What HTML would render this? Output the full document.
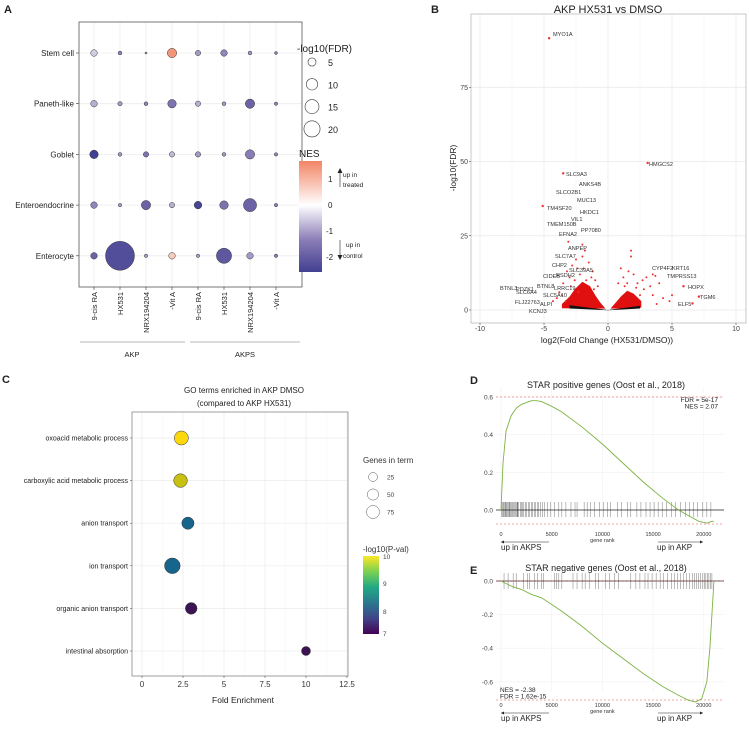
<!DOCTYPE html>
<html><head><meta charset="utf-8"><style>
body{margin:0;background:#fff}
svg{display:block;font-family:"Liberation Sans",Arial,sans-serif}
</style></head><body>
<svg id="fig" width="749" height="733" viewBox="0 0 749 733" xmlns="http://www.w3.org/2000/svg">
<g id="pA"></g>
<g id="pB"></g>
<g id="pC"></g>
<g id="pD"></g>
<g id="pE"></g>
</svg>
<script>
// ---------- Panel A data ----------
const aRows = ["Stem cell","Paneth-like","Goblet","Enteroendocrine","Enterocyte"];
const aCols = ["9-cis RA","HX531","NRX194204","-Vit A","9-cis RA","HX531","NRX194204","-Vit A"];
const aFdr = [
 [3,1,0.3,6,2,3,1,0.6],
 [3,1.3,1,5,2,1,6,0.8],
 [5,1,2,2,2,1,6,0.8],
 [3,0.8,6,2,4,5,12,0.8],
 [3,58,0.8,3,0.8,16,3,0.8]];
const aNes = [
 [-0.5,-1.2,-1,1.4,-1,-1.2,-1,-1.3],
 [-0.8,-1,-1.2,-1.5,-0.8,-1,-1.8,-1.2],
 [-2.5,-1,-1.5,-0.7,-1,-1,-1.3,-1.2],
 [-1.2,-1,-1.8,-0.8,-2.4,-1.5,-1.8,-1.3],
 [-1.8,-2.2,-1,0.7,-1,-2,-1,-1.3]];
const aLegendFdr = [5,10,15,20];
const aNesTicks = [1,0,-1,-2];
// ---------- Panel B data ----------
const bCloudPts = [[-1.8,20],[-2,18],[-2.8,15],[-3.2,13],[-1.5,16],[-2.2,12],[-2.6,10],[-1.2,13],[-3.5,9],[-3,11],[-2,22],[-2.4,14],[-1.7,10],[-3.8,6],[-4,4],[-4.3,3],[-3.3,3],[-1,10],[-0.8,8],[-1.3,11],[-2.9,8],[-3.1,23],[-2.5,17],[-1.9,14],[-3.6,5],[-1.1,7],[-2.3,6],
 [1.8,20],[1.8,18],[1,14],[1.2,11],[2.3,9],[2.8,7],[3,11],[3.3,8],[3.5,5],[4,9],[4.3,4],[4.8,3],[5,5],[1.5,9],[2,12],[0.8,9],[2.5,5],[3.8,2],[3.5,12],[3.7,11.5],[2.2,7.5],[1.3,8],[2.7,10],[1.6,13]];
const bLeftDense = [[-0.2,0.5],[-0.6,2.5],[-1,5],[-1.4,8],[-2,9.5],[-2.6,7],[-3,4.5],[-3.6,2],[-3.6,0.6],[-1,0.4]];
const bRightDense = [[0.2,0.5],[0.6,2.5],[1,4.5],[1.5,6.5],[2,5.5],[2.6,3],[2.6,0.8],[1,0.4]];
const bBlackV = [[0,0],[-3,1.6],[-3,0.5],[0,-0.1],[2.5,0.5],[2.5,1.4]];
const bLabeled = [["MYO1A",-4.6,91.5],["HMGCS2",3.1,49.5],["SLC9A3",-3.5,46],["TM4SF20",-5.1,35],["HOPX",5.9,8],["TGM6",7.1,4.5],["ELF5",6.6,2.2]];
const bTexts = [["MYO1A",553,36],["HMGCS2",649,166],["SLC9A3",566,176],["ANKS4B",579,186],["SLCO2B1",556,194],["MUC13",577,202],["TM4SF20",547,210],["HKDC1",580,214],["VIL1",571,221],["TMEM150B",547,226],["PP7080",581,232],["EFNA2",559,236],["ANPEP",568,250],["SLC7A7",555,258],["CHP2",552,267],["SLC39A5",569,272],["CIDEB",543,278],["RSDH2",556,277],["BTNL8",537,288],["LRRC19",554,290],["BTNL3",500,290],["PDZK1",516,291],["SLC6A4",516,294],["SLC5A10",543,297],["FLJ22763",515,304],["ALPI",540,306],["KCNJ3",529,313],["CYP4F2",652,270],["KRT16",672,270],["TMPRSS13",667,278],["HOPX",688,289],["TGM6",700,299],["ELF5",678,306]];
const bXTicks = [-10,-5,0,5,10];
const bYTicks = [0,25,50,75];
// ---------- Panel C data ----------
const cTerms = ["oxoacid metabolic process","carboxylic acid metabolic process","anion transport","ion transport","organic anion transport","intestinal absorption"];
const cFold = [2.4,2.35,2.8,1.85,3,10];
const cGenes = [60,55,40,80,35,15];
const cPval = [10,9.7,8.1,8,7.2,7.1];
const cXTicks = [0,2.5,5,7.5,10,12.5];
const cLegendGenes = [25,50,75];
// ---------- Panel D/E data ----------
const dRanks = [0,200,500,1000,1500,2000,2500,3000,3500,4000,5000,6000,8000,10000,12000,14000,16000,17500,18500,19500,20300,20800,21000];
const dES = [0,0.25,0.42,0.5,0.54,0.56,0.57,0.58,0.58,0.575,0.55,0.52,0.44,0.35,0.25,0.15,0.06,0,-0.03,-0.06,-0.07,-0.06,-0.06];
const dHits = [50,150,250,300,400,450,550,600,700,800,850,950,1050,1150,1200,1300,1400,1500,1600,1650,1750,1900,2000,2150,2250,2400,2500,2700,2800,3000,3100,3300,3400,3600,3700,3900,4100,4300,4600,4900,5300,5700,6000,6400,6900,7300,7500,8200,8500,8800,9200,9700,10100,10500,10800,11500,11900,12500,12800,13400,13800,14300,14700,15100,15500,15900,16300,16800,17200,17700,18200,18600,19000,19400,19900,20300,20700];
const eRanks = [0,1000,2000,3000,4000,6000,8000,10000,12000,14000,16000,17500,18500,19200,19800,20300,20600,20900,21000];
const eES = [0,-0.03,-0.05,-0.08,-0.1,-0.18,-0.27,-0.37,-0.46,-0.55,-0.63,-0.68,-0.71,-0.72,-0.7,-0.6,-0.4,-0.1,0];
const eHits = [300,700,1200,1500,2200,2600,2800,3300,3600,4000,4200,5300,5500,5700,6000,7100,7500,8000,8300,8700,9300,9600,10300,10700,11200,11600,12800,13300,13700,14200,14500,14900,15300,15700,16000,16400,16800,17100,17400,17700,18000,18300,18600,18900,19100,19300,19500,19700,19900,20050,20200,20350,20500,20650,20800];
const gseaXTicks = [0,5000,10000,15000,20000];

const NS="http://www.w3.org/2000/svg";
function mk(parent,tag,attrs,text){const e=document.createElementNS(NS,tag);for(const k in attrs)e.setAttribute(k,attrs[k]);if(text!==undefined)e.textContent=text;parent.appendChild(e);return e;}
function lerp(a,b,t){return a+(b-a)*t;}
function mixHex(c1,c2,t){const p=h=>[1,3,5].map(i=>parseInt(h.substr(i,2),16));const a=p(c1),b=p(c2);return "rgb("+a.map((v,i)=>Math.round(lerp(v,b[i],t))).join(",")+")";}

// ===== Panel A =====
(function(){
 const g=document.getElementById('pA');
 let t=mk(g,'text',{x:4,y:13,'font-size':11,'font-weight':'bold',fill:'#222'},'A');
 
 const x0=79,x1=302,y0=22,y1=287;
 const colX=i=>94+i*26.0, rowY=i=>53+i*50.7;
 const rad=v=>Math.sqrt(v)*1.9;
 const nesCol=v=>v>=0?mixHex('#ffffff','#f28566',Math.min(v/1.6,1)):(v>-1.3?mixHex('#ffffff','#8a7cb6',-v/1.3):mixHex('#8a7cb6','#3b3a8e',Math.min((-v-1.3)/1.3,1)));
 aCols.forEach((c,i)=>{mk(g,'line',{x1:colX(i),x2:colX(i),y1:y0,y2:y1,stroke:'#ececec','stroke-width':0.8});});
 aRows.forEach((r,i)=>{mk(g,'line',{x1:x0,x2:x1,y1:rowY(i),y2:rowY(i),stroke:'#ececec','stroke-width':0.8});
  const l=mk(g,'text',{x:x0-5,y:rowY(i)+3,'font-size':8,'text-anchor':'end',fill:'#222'},r);
  
  mk(g,'line',{x1:x0-3,x2:x0,y1:rowY(i),y2:rowY(i),stroke:'#333','stroke-width':0.6});});
 const box=mk(g,'rect',{x:x0,y:y0,width:x1-x0,height:y1-y0,fill:'none',stroke:'#555','stroke-width':0.8});
 
 aRows.forEach((r,i)=>aCols.forEach((c,j)=>{
  const d=mk(g,'circle',{cx:colX(j),cy:rowY(i),r:rad(aFdr[i][j]),fill:nesCol(aNes[i][j]),stroke:'#333','stroke-width':0.5});
  }));
 aCols.forEach((c,i)=>{mk(g,'line',{x1:colX(i),x2:colX(i),y1:y1,y2:y1+3,stroke:'#333','stroke-width':0.6});
  const l=mk(g,'text',{x:0,y:0,'font-size':7.5,'text-anchor':'end',fill:'#222',transform:`translate(${colX(i)+3},${y1+5}) rotate(-90)`},c);
  });
 mk(g,'line',{x1:80,x2:185,y1:342,y2:342,stroke:'#777','stroke-width':0.6});
 mk(g,'line',{x1:190,x2:300,y1:342,y2:342,stroke:'#777','stroke-width':0.6});
 t=mk(g,'text',{x:132,y:357,'font-size':7.5,'text-anchor':'middle',fill:'#222'},'AKP');
 t=mk(g,'text',{x:245,y:357,'font-size':7.5,'text-anchor':'middle',fill:'#222'},'AKPS');
 // size legend
 t=mk(g,'text',{x:297,y:52,'font-size':10,fill:'#222'},'-log10(FDR)');
 aLegendFdr.forEach((v,i)=>{const cy=62+i*22.3;
  const c=mk(g,'circle',{cx:312,cy:cy,r:rad(v)*0.95,fill:'none',stroke:'#333','stroke-width':0.6});
  mk(g,'text',{x:328,y:cy+4,'font-size':9,fill:'#222'},String(v));});
 t=mk(g,'text',{x:299,y:157,'font-size':10,fill:'#222'},'NES');
 const defs=mk(g,'defs',{});const lg=mk(defs,'linearGradient',{id:'nesg',x1:0,y1:0,x2:0,y2:1});
 [[1.63,0],[1,0],[0,0],[-1.3,0],[-2.48,0]].forEach(s=>{const v=s[0];mk(lg,'stop',{offset:((1.63-v)/(1.63+2.48)).toFixed(3),'stop-color':nesCol(v)});});
 const cb=mk(g,'rect',{x:299,y:161,width:23,height:111,fill:'url(#nesg)'});
 const nesY=v=>205-v*26;
 aNesTicks.forEach(v=>{mk(g,'text',{x:v<0?326:328,y:nesY(v)+3,'font-size':8,fill:'#222'},String(v));});
 mk(g,'line',{x1:340,x2:340,y1:187,y2:171,stroke:'#222','stroke-width':0.6});mk(g,'path',{d:'M337.5,173 L340,168 L342.5,173Z',fill:'#222'});
 mk(g,'text',{x:343,y:177,'font-size':6.5,fill:'#222'},'up in');mk(g,'text',{x:343,y:187,'font-size':6.5,fill:'#222'},'treated');
 mk(g,'line',{x1:340,x2:340,y1:240,y2:257,stroke:'#222','stroke-width':0.6});mk(g,'path',{d:'M337.5,255 L340,260 L342.5,255Z',fill:'#222'});
 mk(g,'text',{x:346,y:247,'font-size':6.5,fill:'#222'},'up in');mk(g,'text',{x:343,y:258,'font-size':6.5,fill:'#222'},'control');
})();

// ===== Panel B =====
(function(){
 const g=document.getElementById('pB');
 let t=mk(g,'text',{x:431,y:13,'font-size':11,'font-weight':'bold',fill:'#222'},'B');
 const X=v=>608+v*12.8, Y=v=>310-v*2.97;
 const x0=471,x1=746,y0=14,y1=323;
 [-7.5,-2.5,2.5,7.5].forEach(v=>mk(g,'line',{x1:X(v),x2:X(v),y1:y0,y2:y1,stroke:'#f3f3f3','stroke-width':0.5}));
 bXTicks.forEach(v=>mk(g,'line',{x1:X(v),x2:X(v),y1:y0,y2:y1,stroke:'#e8e8e8','stroke-width':0.7}));
 bYTicks.forEach(v=>mk(g,'line',{x1:x0,x2:x1,y1:Y(v),y2:Y(v),stroke:'#e8e8e8','stroke-width':0.7}));
 const box=mk(g,'rect',{x:x0,y:y0,width:x1-x0,height:y1-y0,fill:'none',stroke:'#bbb','stroke-width':0.8});
 const poly=(pts,fill,name)=>{const p=mk(g,'polygon',{points:pts.map(q=>X(q[0])+','+Y(q[1])).join(' '),fill:fill});};
 poly(bLeftDense,'#e01010','dense-points-down');poly(bRightDense,'#e01010','dense-points-up');
 bCloudPts.forEach(p=>{const c=mk(g,'circle',{cx:X(p[0]),cy:Y(p[1]),r:1,fill:'#ee3030'});});
 poly(bBlackV,'#111','nonsig-points');
 bLabeled.forEach(p=>{const c=mk(g,'circle',{cx:X(p[1]),cy:Y(p[2]),r:1.2,fill:'#ee3030'});});
 bTexts.forEach(p=>{const l=mk(g,'text',{x:p[1],y:p[2],'font-size':5.6,fill:'#333'},p[0]);});
 bXTicks.forEach(v=>{mk(g,'line',{x1:X(v),x2:X(v),y1:y1,y2:y1+2,stroke:'#333','stroke-width':0.5});mk(g,'text',{x:X(v),y:y1+8,'font-size':7,'text-anchor':'middle',fill:'#444'},String(v));});
 bYTicks.forEach(v=>{mk(g,'line',{x1:x0-2,x2:x0,y1:Y(v),y2:Y(v),stroke:'#333','stroke-width':0.5});mk(g,'text',{x:x0-3,y:Y(v)+2.5,'font-size':7,'text-anchor':'end',fill:'#444'},String(v));});
 t=mk(g,'text',{x:608,y:13,'font-size':11,'text-anchor':'middle',fill:'#222'},'AKP HX531 vs DMSO');
 t=mk(g,'text',{x:607,y:343,'font-size':8.5,'text-anchor':'middle',fill:'#222'},'log2(Fold Change (HX531/DMSO))');
 t=mk(g,'text',{x:0,y:0,'font-size':8.5,'text-anchor':'middle',fill:'#222',transform:'translate(456,168) rotate(-90)'},'-log10(FDR)');
})();

// ===== Panel C =====
(function(){
 const g=document.getElementById('pC');
 let t=mk(g,'text',{x:2,y:383,'font-size':11,'font-weight':'bold',fill:'#222'},'C');
 const X=v=>142+v*16.4, rowY=i=>438+i*42.6;
 const x0=132,x1=348,y0=412,y1=676;
 [1.25,3.75,6.25,8.75,11.25].forEach(v=>mk(g,'line',{x1:X(v),x2:X(v),y1:y0,y2:y1,stroke:'#f5f5f5','stroke-width':0.5}));
 cXTicks.forEach(v=>mk(g,'line',{x1:X(v),x2:X(v),y1:y0,y2:y1,stroke:'#ebebeb','stroke-width':0.7}));
 cTerms.forEach((s,i)=>{mk(g,'line',{x1:x0,x2:x1,y1:rowY(i),y2:rowY(i),stroke:'#ebebeb','stroke-width':0.7});
  mk(g,'line',{x1:x0-2,x2:x0,y1:rowY(i),y2:rowY(i),stroke:'#333','stroke-width':0.5});
  const l=mk(g,'text',{x:x0-4,y:rowY(i)+2.5,'font-size':7,'text-anchor':'end',fill:'#222'},s);});
 const box=mk(g,'rect',{x:x0,y:y0,width:x1-x0,height:y1-y0,fill:'none',stroke:'#888','stroke-width':0.8});
 const vir=['#440154','#31688e','#21908d','#35b779','#fde725'];
 const col=v=>{const t=Math.max(0,Math.min(1,(v-7)/3));
  const stops=[[0,'#440154'],[0.33,'#2a5f8e'],[0.5,'#1f848b'],[0.67,'#22a784'],[0.85,'#a0c820'],[1,'#fde725']];
  for(let i=1;i<stops.length;i++)if(t<=stops[i][0]){return mixHex(stops[i-1][1],stops[i][1],(t-stops[i-1][0])/(stops[i][0]-stops[i-1][0]));}return '#fde725';};
 const colFix=v=>v>=9.5?mixHex('#b8b816','#fbd80c',(v-9.6)/0.4):(v>=7.9?'#17648c':mixHex('#3a1250','#4a1e5e',(v-7)));
 const rad=v=>2+Math.sqrt(v)*0.65;
 cTerms.forEach((s,i)=>{const c=mk(g,'circle',{cx:X(cFold[i]),cy:rowY(i),r:rad(cGenes[i]),fill:colFix(cPval[i]),stroke:'#333','stroke-width':0.5});});
 cXTicks.forEach(v=>{mk(g,'line',{x1:X(v),x2:X(v),y1:y1,y2:y1+2,stroke:'#333','stroke-width':0.5});mk(g,'text',{x:X(v),y:y1+11,'font-size':8,'text-anchor':'middle',fill:'#333'},String(v));});
 t=mk(g,'text',{x:243,y:703,'font-size':8.5,'text-anchor':'middle',fill:'#222'},'Fold Enrichment');
 t=mk(g,'text',{x:244,y:393,'font-size':8,'text-anchor':'middle',fill:'#222'},'GO terms enriched in AKP DMSO');
 mk(g,'text',{x:244,y:406,'font-size':8,'text-anchor':'middle',fill:'#222'},'(compared to AKP HX531)');
 t=mk(g,'text',{x:363,y:463,'font-size':8,fill:'#333'},'Genes in term');
 cLegendGenes.forEach((v,i)=>{const cy=477+i*17.5;const c=mk(g,'circle',{cx:373,cy:cy,r:rad(v)*0.85,fill:'none',stroke:'#555','stroke-width':0.5});
  mk(g,'text',{x:387,y:cy+2.5,'font-size':6.5,fill:'#444'},String(v));});
 t=mk(g,'text',{x:363,y:552,'font-size':8,fill:'#333'},'-log10(P-val)');
 const defs=mk(g,'defs',{});const lg=mk(defs,'linearGradient',{id:'virg',x1:0,y1:0,x2:0,y2:1});
 ['#fde725','#7ad151','#22a884','#2a788e','#414487','#440154'].forEach((c,i)=>mk(lg,'stop',{offset:(i/5).toFixed(2),'stop-color':c}));
 const cb=mk(g,'rect',{x:363,y:556,width:16,height:78,fill:'url(#virg)'});
 [[10,556],[9,583],[8,611],[7,633]].forEach(p=>mk(g,'text',{x:383,y:p[1]+3,'font-size':6.5,fill:'#444'},String(p[0])));
})();

// ===== GSEA panels =====
function gsea(gid,letter,ly,title,ty,ranks,es,hits,yTicks,yScale,zeroY,barTop,barBot,dashTop,dashBot,stats,statX,statY,statAnchor,tickY){
 const g=document.getElementById(gid);
 let t=mk(g,'text',{x:470,y:ly,'font-size':11,'font-weight':'bold',fill:'#222'},letter);
 const X=v=>501+v*0.01014, Y=v=>zeroY-v*yScale;
 const xL=496,xR=724;
 gseaXTicks.forEach(v=>mk(g,'line',{x1:X(v),x2:X(v),y1:Y(yTicks[0])-10,y2:Y(yTicks[yTicks.length-1])+10,stroke:'#f0f0f0','stroke-width':0.6}));
 yTicks.forEach(v=>{mk(g,'line',{x1:xL,x2:xR,y1:Y(v),y2:Y(v),stroke:'#f0f0f0','stroke-width':0.6});
  mk(g,'text',{x:xL-3,y:Y(v)+2.5,'font-size':6.5,'text-anchor':'end',fill:'#444'},v.toFixed(1));});
 hits.forEach(h=>{const b=mk(g,'line',{x1:X(h),x2:X(h),y1:barTop,y2:barBot,stroke:'#222','stroke-width':0.5,'stroke-opacity':0.6});});
 mk(g,'line',{x1:xL,x2:xR,y1:zeroY,y2:zeroY,stroke:'#222','stroke-width':0.7});
 mk(g,'line',{x1:xL,x2:xR,y1:dashTop,y2:dashTop,stroke:'#e05050','stroke-width':0.6,'stroke-dasharray':'2,2'});
 mk(g,'line',{x1:xL,x2:xR,y1:dashBot,y2:dashBot,stroke:'#e05050','stroke-width':0.6,'stroke-dasharray':'2,2'});
 const p=mk(g,'polyline',{points:ranks.map((r,i)=>X(r)+','+Y(es[i])).join(' '),fill:'none',stroke:'#7cb342','stroke-width':0.9});
 t=mk(g,'text',{x:606,y:ty,'font-size':9,'text-anchor':'middle',fill:'#222'},title);
 stats.forEach((s,i)=>mk(g,'text',{x:statX,y:statY+i*6.5,'font-size':6.5,'text-anchor':statAnchor,fill:'#222'},s));
 gseaXTicks.forEach(v=>mk(g,'text',{x:X(v),y:tickY,'font-size':5.5,'text-anchor':'middle',fill:'#333'},String(v)));
 mk(g,'text',{x:X(10000),y:tickY+6,'font-size':5.5,'text-anchor':'middle',fill:'#333'},'gene rank');
 mk(g,'line',{x1:549,x2:501,y1:tickY+6,y2:tickY+6,stroke:'#222','stroke-width':0.6});mk(g,'path',{d:`M501,${tickY+6} l3,-1.5 l0,3Z`,fill:'#222'});
 mk(g,'line',{x1:658,x2:703,y1:tickY+6,y2:tickY+6,stroke:'#222','stroke-width':0.6});mk(g,'path',{d:`M703,${tickY+6} l-3,-1.5 l0,3Z`,fill:'#222'});
 t=mk(g,'text',{x:501,y:tickY+14,'font-size':8,fill:'#222'},'up in AKPS');
 t=mk(g,'text',{x:657,y:tickY+14,'font-size':8,fill:'#222'},'up in AKP');
}
gsea('pD','D',384,'STAR positive genes (Oost et al., 2018)',388,dRanks,dES,dHits,[0.6,0.4,0.2,0.0],188.5,510,502,517,397,524,['FDR = 5e-17','NES = 2.07'],718,402,'end',536);
gsea('pE','E',574,'STAR negative genes (Oost et al., 2018)',571,eRanks,eES,eHits,[0.0,-0.2,-0.4,-0.6],168,581,573,589,581,700,['NES = -2.38','FDR = 1.62e-15'],500,692,'start',707);
</script>
</body></html>
